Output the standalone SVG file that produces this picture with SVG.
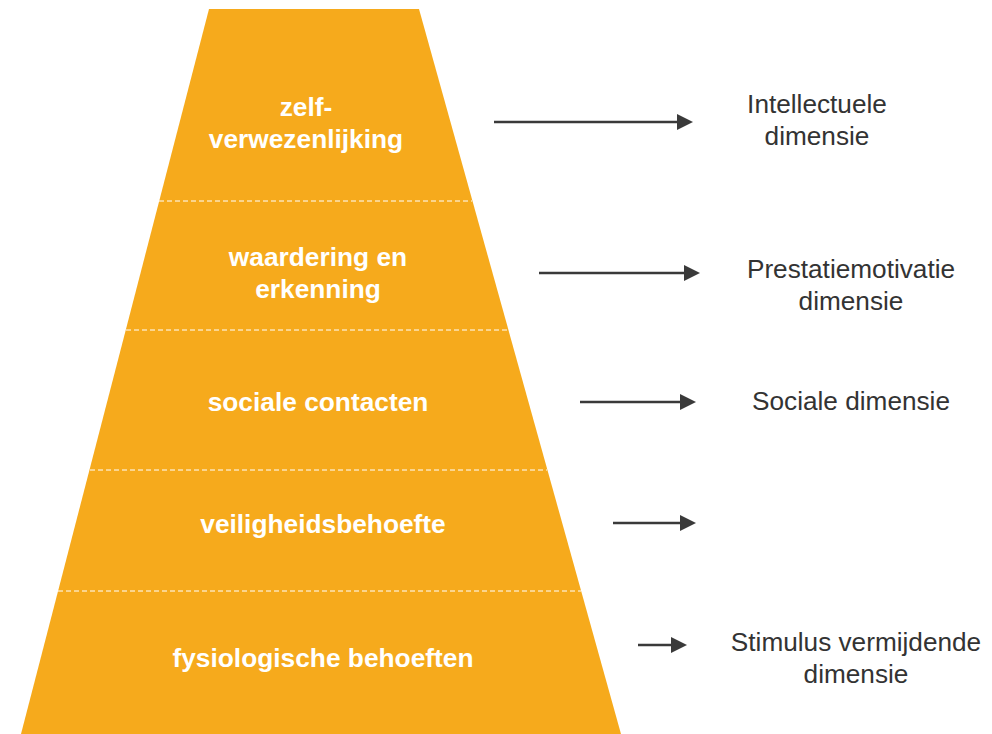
<svg xmlns="http://www.w3.org/2000/svg" width="992" height="734" viewBox="0 0 992 734">
  <style>
    .lvl { font-family: "Liberation Sans", Arial, sans-serif; font-weight: bold; font-size: 26.3px; fill: #ffffff; text-anchor: middle; }
    .dim { font-family: "Liberation Sans", Arial, sans-serif; font-size: 26.2px; fill: #333333; text-anchor: middle; }
    .sep { stroke: #ffffff; stroke-width: 1; stroke-dasharray: 5 3; fill: none; }
    .arr { stroke: #3a3a3a; stroke-width: 2.5; fill: none; marker-end: url(#head); }
  </style>
  <defs>
    <marker id="head" markerUnits="userSpaceOnUse" markerWidth="16" markerHeight="16" refX="0" refY="8" orient="auto" viewBox="0 0 16 16">
      <path d="M0,0 L16,8 L0,16 z" fill="#3a3a3a"/>
    </marker>
  </defs>
  <rect width="992" height="734" fill="#ffffff"/>
  <g id="pyramid">
    <polygon points="209,9 419,9 621,734 21,734" fill="#F6AA1C"/>
    <line class="sep" x1="159" y1="201" x2="472" y2="201"/>
    <line class="sep" x1="126" y1="330" x2="508" y2="330"/>
    <line class="sep" x1="90" y1="470" x2="547" y2="470"/>
    <line class="sep" x1="58" y1="591" x2="581" y2="591"/>
  </g>
  <g id="level-zelfverwezenlijking">
    <text class="lvl" x="306" y="116">zelf-</text>
    <text class="lvl" x="306" y="148">verwezenlijking</text>
  </g>
  <g id="level-waardering">
    <text class="lvl" x="318" y="266">waardering en</text>
    <text class="lvl" x="318" y="298">erkenning</text>
  </g>
  <g id="level-sociale">
    <text class="lvl" x="318" y="411">sociale contacten</text>
  </g>
  <g id="level-veiligheid">
    <text class="lvl" x="323" y="533">veiligheidsbehoefte</text>
  </g>
  <g id="level-fysiologisch">
    <text class="lvl" x="323" y="667">fysiologische behoeften</text>
  </g>
  <g id="dim-intellectueel">
    <text class="dim" x="817" y="113">Intellectuele</text>
    <text class="dim" x="817" y="145">dimensie</text>
  </g>
  <g id="dim-prestatie">
    <text class="dim" x="851" y="278">Prestatiemotivatie</text>
    <text class="dim" x="851" y="310">dimensie</text>
  </g>
  <g id="dim-sociaal">
    <text class="dim" x="851" y="410">Sociale dimensie</text>
  </g>
  <g id="dim-stimulus">
    <text class="dim" x="856" y="651">Stimulus vermijdende</text>
    <text class="dim" x="856" y="683">dimensie</text>
  </g>
  <g id="connectors">
    <line class="arr" x1="494" y1="122" x2="677" y2="122"/>
    <line class="arr" x1="539" y1="273" x2="684" y2="273"/>
    <line class="arr" x1="580" y1="402" x2="680" y2="402"/>
    <line class="arr" x1="613" y1="523" x2="680" y2="523"/>
    <line class="arr" x1="638" y1="645" x2="671" y2="645"/>
  </g>
</svg>
